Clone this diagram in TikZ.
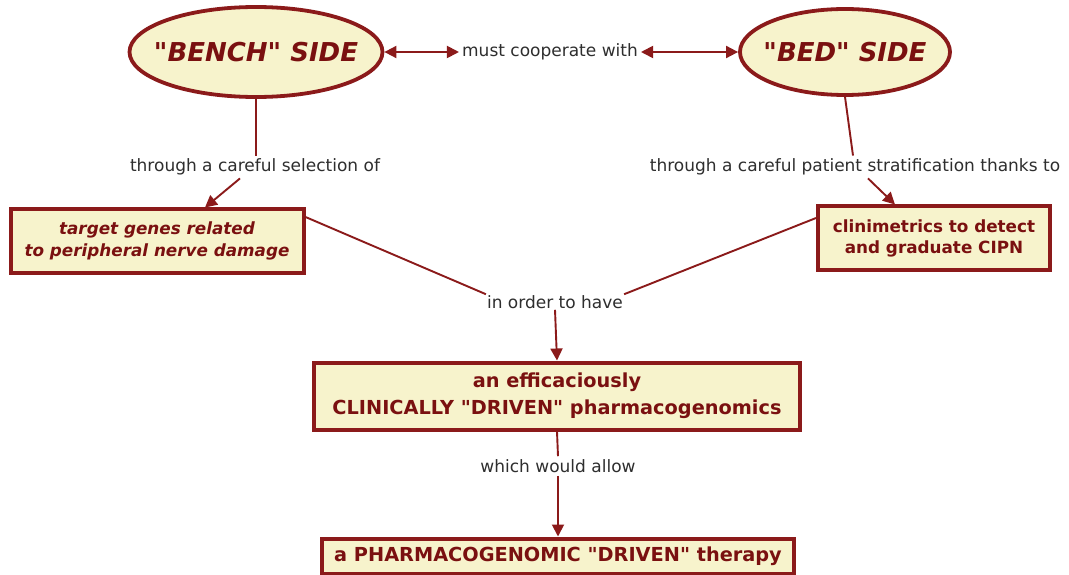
\documentclass[tikz,border=0pt]{standalone}
\usepackage{fontspec}
\setmainfont{DejaVu Sans}
\usetikzlibrary{shapes.geometric,arrows.meta}
\definecolor{dred}{HTML}{8B1A1A}
\definecolor{tred}{HTML}{7A1010}
\definecolor{cream}{HTML}{F7F3CC}
\definecolor{lbl}{HTML}{2E2E2E}
\newcommand\qd{\textquotedbl}
\tikzset{
  oval/.style={ellipse,draw=dred,line width=3.8pt,fill=cream,inner ysep=0pt,text=tred,
    font=\fontsize{26}{30}\selectfont\bfseries\itshape},
  cbox/.style={rectangle,draw=dred,line width=4pt,fill=cream,inner sep=0pt,text=tred,
    align=center},
  lab/.style={text=lbl,fill=white,inner sep=3pt,font=\fontsize{17}{19}\selectfont},
  conn/.style={draw=dred,line width=1.9pt},
  arr/.style={conn,-{Triangle[length=12pt,width=12pt]}},
  darr/.style={conn,{Triangle[length=12pt,width=12pt]}-{Triangle[length=12pt,width=12pt]}}
}
\begin{document}
\begin{tikzpicture}[x=1pt,y=-1pt]
\useasboundingbox[fill=white] (0,0) rectangle (1069,575);
% main nodes
\node[oval,minimum width=253pt,minimum height=90pt,inner xsep=-17pt] (bench) at (256,52) {\qd BENCH\qd{} SIDE};
\node[oval,minimum width=210pt,minimum height=86pt,inner xsep=-8pt] (bed) at (845,52) {\qd BED\qd{} SIDE};
\node[cbox,minimum width=293pt,minimum height=63pt,font=\fontsize{16.8}{22}\selectfont\bfseries\itshape] (target) at (157,241) {target genes related\\to peripheral nerve damage};
\node[cbox,minimum width=232pt,minimum height=63pt,font=\fontsize{16.8}{21}\selectfont\bfseries] (clini) at (934,238) {clinimetrics to detect\\and graduate CIPN};
\node[cbox,minimum width=486pt,minimum height=67pt,font=\fontsize{19.3}{27}\selectfont\bfseries] (effic) at (557,396) {an efficaciously\\CLINICALLY \qd DRIVEN\qd{} pharmacogenomics};
\node[cbox,minimum width=472pt,minimum height=35pt,font=\fontsize{19.3}{22}\selectfont\bfseries] (ther) at (558,556) {a PHARMACOGENOMIC \qd DRIVEN\qd{} therapy};
% labels
\node[lab] (coop) at (550,52) {must cooperate with};
\node[lab] (sel) at (255,167) {through a careful selection of};
\node[lab] (strat) at (855,167) {through a careful patient stratification thanks to};
\node[lab,inner sep=1pt] (order) at (555,302) {in order to have};
\node[lab] (allow) at (558,466) {which would allow};
% connectors
\draw[darr] (bench.east) -- (coop.west);
\draw[darr] (coop.east) -- (bed.west);
\draw[conn] (bench.south) -- (sel.north -| bench.south);
\draw[arr] ([xshift=-15pt]sel.south) -- ([xshift=48pt]target.north);
\draw[conn] (bed.south) -- ([xshift=-2pt]strat.north);
\draw[arr] ([xshift=13pt]strat.south) -- ([xshift=-39pt]clini.north);
\draw[conn] ([yshift=24pt]target.east) -- (order.north west);
\draw[conn] ([yshift=20pt]clini.west) -- (order.north east);
\draw[arr] (order.south) -- (effic.north);
\draw[conn] (effic.south) -- (allow.north);
\draw[arr] (allow.south) -- (ther.north);
\end{tikzpicture}
\end{document}
